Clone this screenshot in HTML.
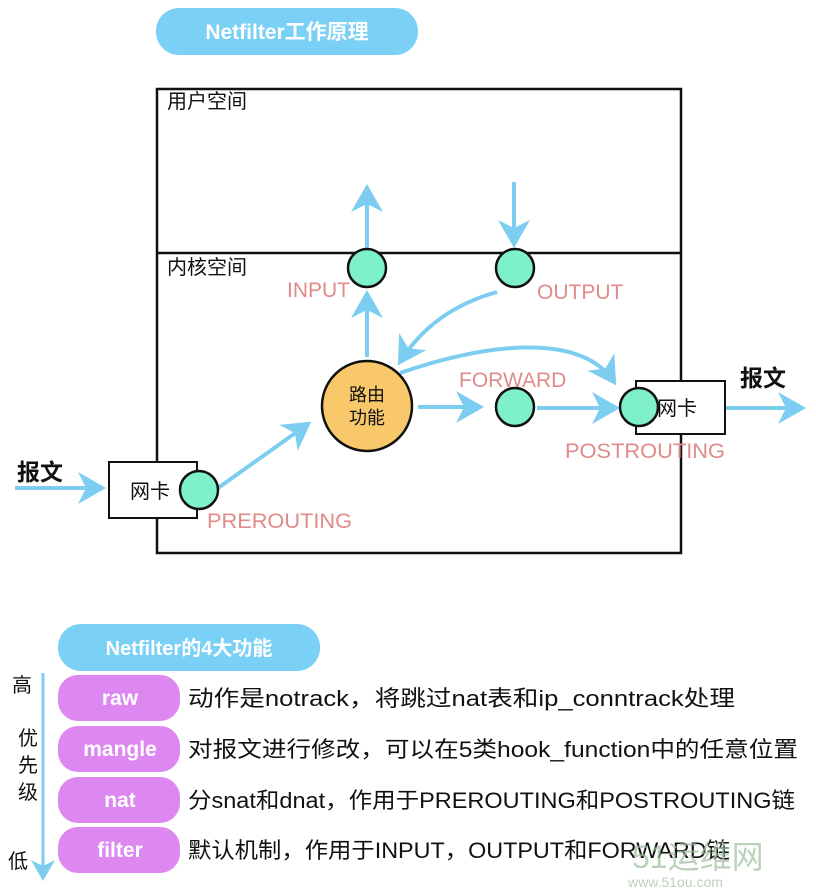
<!DOCTYPE html>
<html><head><meta charset="utf-8"><style>
html,body{margin:0;padding:0;background:#fff;}
svg{display:block;}
text{font-family:"Liberation Sans","Noto Sans CJK SC",sans-serif;}
.lbl{fill:#e08a8a;font-size:21px;}
.arr{stroke:#7ccdf0;stroke-width:4;fill:none;marker-end:url(#ah);}
.node{fill:#7ff0cc;stroke:#111;stroke-width:2.5;}
.pill{fill:#dd88f0;}
.pt{fill:#fff;font-weight:bold;font-size:21px;text-anchor:middle;}
.desc{fill:#111;font-size:22px;}
</style></head><body>
<svg width="816" height="894" viewBox="0 0 816 894" xmlns="http://www.w3.org/2000/svg">
<defs>
<marker id="ah" markerWidth="8" markerHeight="8" refX="6" refY="4" orient="auto" markerUnits="strokeWidth">
<path d="M0,0 L7,4 L0,8 L2,4 Z" fill="#7ccdf0"/>
</marker>
</defs>
<rect x="156" y="8" width="262" height="47" rx="23" fill="#7ad0f5"/>
<text x="287" y="39" class="pt" style="font-size:21px">Netfilter工作原理</text>

<rect x="157" y="89" width="524" height="464" fill="none" stroke="#111" stroke-width="2.5"/>
<line x1="157" y1="253" x2="681" y2="253" stroke="#111" stroke-width="2.5"/>
<text x="167" y="108" font-size="20" fill="#111">用户空间</text>
<text x="167" y="274" font-size="20" fill="#111">内核空间</text>

<line class="arr" x1="367" y1="250" x2="367" y2="188"/>
<line class="arr" x1="514" y1="182" x2="514" y2="244"/>
<line class="arr" x1="367" y1="357" x2="367" y2="294"/>
<path class="arr" d="M497,292 C450,305 420,330 400,362"/>
<path class="arr" d="M400,373 C480,345 580,330 614,382"/>
<line class="arr" x1="418" y1="407" x2="480" y2="407"/>
<line class="arr" x1="537" y1="408" x2="616" y2="408"/>
<line class="arr" x1="716" y1="408" x2="802" y2="408"/>
<line class="arr" x1="15" y1="488" x2="102" y2="488"/>
<line class="arr" x1="218" y1="488" x2="308" y2="424"/>

<rect x="109" y="462" width="88" height="56" fill="#fff" stroke="#111" stroke-width="2"/>
<text x="130" y="498" font-size="20" fill="#111">网卡</text>
<rect x="636" y="381" width="89" height="53" fill="#fff" stroke="#111" stroke-width="2"/>
<text x="657" y="415" font-size="20" fill="#111">网卡</text>

<circle class="node" cx="367" cy="268" r="19"/>
<circle class="node" cx="515" cy="268" r="19"/>
<circle class="node" cx="515" cy="407" r="19"/>
<circle class="node" cx="639" cy="407" r="19"/>
<circle class="node" cx="199" cy="490" r="19"/>
<circle cx="367" cy="406" r="45" fill="#f9c86b" stroke="#111" stroke-width="2.5"/>
<text x="367" y="401" font-size="18" fill="#111" text-anchor="middle">路由</text>
<text x="367" y="424" font-size="18" fill="#111" text-anchor="middle">功能</text>

<text class="lbl" x="287" y="297">INPUT</text>
<text class="lbl" x="537" y="299">OUTPUT</text>
<text class="lbl" x="459" y="387">FORWARD</text>
<text class="lbl" x="565" y="458" textLength="160" lengthAdjust="spacingAndGlyphs">POSTROUTING</text>
<text class="lbl" x="207" y="528" textLength="145" lengthAdjust="spacingAndGlyphs">PREROUTING</text>
<text x="17" y="480" font-size="23" font-weight="bold" fill="#111">报文</text>
<text x="740" y="386" font-size="23" font-weight="bold" fill="#111">报文</text>

<rect x="58" y="624" width="262" height="47" rx="23" fill="#7ad0f5"/>
<text x="189" y="655" class="pt" style="font-size:20px">Netfilter的4大功能</text>
<line x1="43" y1="673" x2="43" y2="878" stroke="#7ccdf0" stroke-width="3" marker-end="url(#ah)"/>
<text x="12" y="692" font-size="20" fill="#111">高</text>
<text x="18" y="745" font-size="20" fill="#111">优</text>
<text x="18" y="772" font-size="20" fill="#111">先</text>
<text x="18" y="799" font-size="20" fill="#111">级</text>
<text x="8" y="868" font-size="20" fill="#111">低</text>

<rect class="pill" x="58" y="675" width="122" height="46" rx="20"/>
<rect class="pill" x="58" y="726" width="122" height="46" rx="20"/>
<rect class="pill" x="58" y="777" width="122" height="46" rx="20"/>
<rect class="pill" x="58" y="827" width="122" height="46" rx="20"/>
<text class="pt" x="120" y="705">raw</text>
<text class="pt" x="120" y="756">mangle</text>
<text class="pt" x="120" y="807">nat</text>
<text class="pt" x="120" y="857">filter</text>
<text class="desc" x="188" y="706" textLength="547" lengthAdjust="spacingAndGlyphs">动作是notrack，将跳过nat表和ip_conntrack处理</text>
<text class="desc" x="188" y="757" textLength="610" lengthAdjust="spacingAndGlyphs">对报文进行修改，可以在5类hook_function中的任意位置</text>
<text class="desc" x="188" y="808" textLength="607" lengthAdjust="spacingAndGlyphs">分snat和dnat，作用于PREROUTING和POSTROUTING链</text>
<text class="desc" x="188" y="858" textLength="542" lengthAdjust="spacingAndGlyphs">默认机制，作用于INPUT，OUTPUT和FORWARD链</text>
<text x="632" y="868" font-size="32" fill="#9dbf9d" opacity="0.7">51运维网</text>
<text x="628" y="887" font-size="14" fill="#9dbf9d" opacity="0.7">www.51ou.com</text>
</svg>
</body></html>
